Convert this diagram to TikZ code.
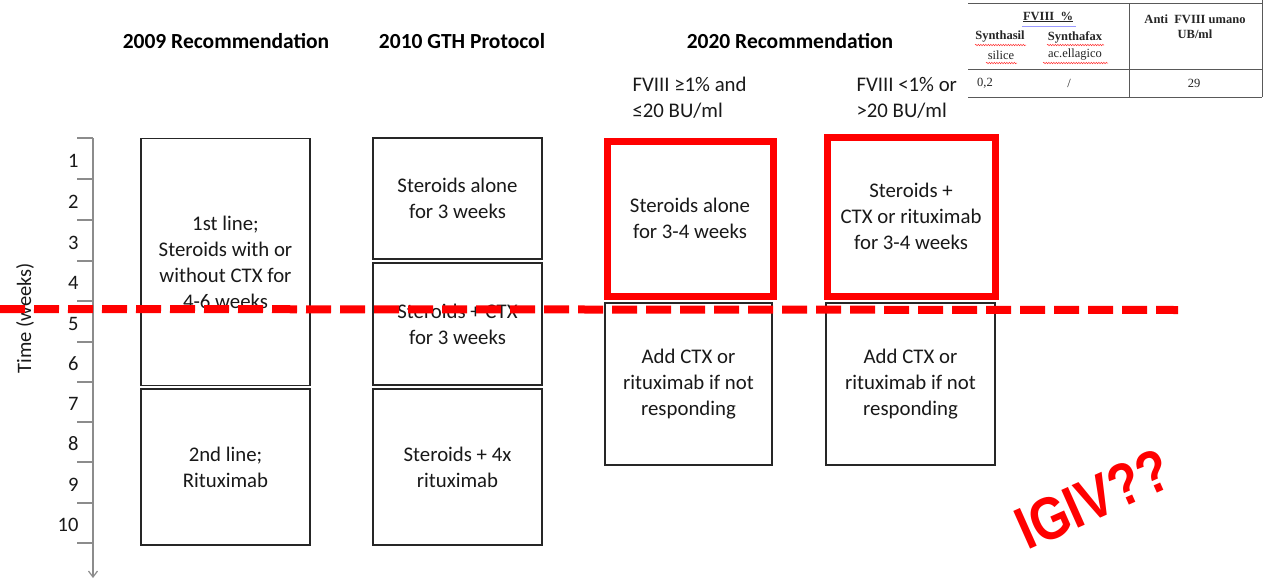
\documentclass[tikz,border=0pt]{standalone}
\usepackage{fontspec}
\setmainfont{Carlito}
\newfontfamily\tnr{Liberation Serif}
\newfontfamily\arialf{Liberation Sans}
\usetikzlibrary{decorations.pathmorphing,arrows.meta}
\begin{document}
\begin{tikzpicture}[x=1pt,y=-1pt,
  box/.style={draw=black!85, line width=1.3pt, align=center, inner sep=0pt,
    font=\fontsize{20.8}{26}\selectfont, text=black!90},
  redbox/.style={draw=red, line width=7pt, align=center, inner sep=0pt,
    font=\fontsize{20.8}{26}\selectfont, text=black!90},
  head/.style={font=\bfseries\fontsize{21.5}{26}\selectfont, text=black},
  cond/.style={font=\fontsize{20.8}{26}\selectfont, align=left, anchor=west, text=black!90},
  axisline/.style={draw=black!45, line width=1.2pt},
  ticklab/.style={font=\fontsize{20.5}{24}\selectfont, anchor=east, text=black!90},
  reddash/.style={draw=red, line width=8pt, dash pattern=on 25pt off 9pt},
  tline/.style={draw=black!65, line width=0.9pt},
  ttext/.style={font=\tnr\fontsize{12.5}{15}\selectfont, text=black!85, inner sep=0pt},
  tbold/.style={font=\tnr\bfseries\fontsize{12.5}{15}\selectfont},
  wavy/.style={draw=red!80, line width=0.5pt, decorate, decoration={snake, amplitude=0.7pt, segment length=2.5pt}}
]
\useasboundingbox (0,0) rectangle (1270,581);
\fill[white] (0,0) rectangle (1270,581);

% headers
\node[head] (h1) at (226,41) {2009 Recommendation};
\node[head] (h2) at (462,41) {2010 GTH Protocol};
\node[head] (h3) at (790,41) {2020 Recommendation};
\node[cond] (c1cond) at (629,98) {FVIII ≥1\% and\\≤20 BU/ml};
\node[cond] (c2cond) at (853,98) {FVIII <1\% or\\>20 BU/ml};

% axis
\coordinate (axtop) at (93,138);
\coordinate (axbot) at (93,578);
\draw[axisline, -{Straight Barb[length=6pt,width=9pt]}] (axtop) -- (axbot);
\foreach \t in {138,179,220,261,301,342,382,422,462,503,543}
  \draw[axisline] (77,\t) -- (93,\t);
\foreach \n/\y in {1/161,2/202,3/243,4/283,5/324,6/364,7/404,8/444,9/485,10/525}
  \node[ticklab] (tl\n) at (82,\y) {\n};
\node[rotate=90, font=\fontsize{20.5}{24}\selectfont, text=black!90] (tlab) at (25,318) {Time (weeks)};

% 2009 column
\node[box, minimum width=169pt, minimum height=247pt] (a1) at (225.5,262)
  {1st line;\\Steroids with or\\without CTX for\\4-6 weeks};
\node[box, minimum width=169pt, minimum height=156pt] (a2) at (225.5,467)
  {2nd line;\\Rituximab};

% 2010 column
\node[box, minimum width=169pt, minimum height=121pt] (b1) at (457.5,198.5)
  {Steroids alone\\for 3 weeks};
\node[box, minimum width=169pt, minimum height=122pt] (b2) at (457.5,324)
  {Steroids + CTX\\for 3 weeks};
\node[box, minimum width=169pt, minimum height=156pt] (b3) at (457.5,467)
  {Steroids + 4x\\rituximab};

% 2020 columns
\node[box, minimum width=167pt, minimum height=162pt] (c2) at (688.5,384)
  {Add CTX or\\rituximab if not\\responding};
\node[box, minimum width=169pt, minimum height=162pt] (d2) at (910.5,384)
  {Add CTX or\\rituximab if not\\responding};

% dashed line
\coordinate (dl) at (0,309);
\coordinate (dr) at (1178,310);
\draw[reddash] (dl) -- (dr);

\node[redbox, minimum width=166pt, minimum height=155pt] (c1) at (690,218.5)
  {Steroids alone\\for 3-4 weeks};
\node[redbox, minimum width=168pt, minimum height=159pt] (d1) at (911,216.5)
  {Steroids +\\CTX or rituximab\\for 3-4 weeks};

% table
\draw[tline] (968,3) -- (1262,3);
\draw[tline] (968,69) -- (1262,69);
\draw[tline] (968,97) -- (1262,97);
\draw[tline] (1129,3) -- (1129,97);
\draw[tline] (1262,0) -- (1262,97);
\node[ttext, tbold] (t1) at (1048,17) {\underline{FVIII\ \ \%}};
\draw[draw=blue!40, line width=0.8pt] (1022,26) -- (1076,26);
\node[ttext, tbold] (t2) at (1000,37) {Synthasil};
\node[ttext] (t3) at (1001,55) {silice};
\node[ttext, tbold] (t4) at (1075,37) {Synthafax};
\node[ttext] (t5) at (1075,55) {ac.ellagico};
\draw[wavy] (975,45) -- (1026,45);
\draw[wavy] (986,63) -- (1017,63);
\draw[wavy] (1047,45) -- (1104,45);
\draw[wavy] (1043,63) -- (1108,63);
\node[ttext, tbold, align=center] (t6) at (1195,27) {Anti\ \ FVIII umano\\UB/ml};
\node[ttext] (t7) at (985,83) {0,2};
\node[ttext] (t8) at (1069,83) {/};
\node[ttext] (t9) at (1194,83) {29};

% IGIV
\node[rotate=24, text=red, inner sep=0pt, font=\arialf\bfseries\fontsize{60}{60}\selectfont] (igiv) at (1093,499) {\scalebox{0.84}[1]{IGIV??}};
\end{tikzpicture}
\end{document}
